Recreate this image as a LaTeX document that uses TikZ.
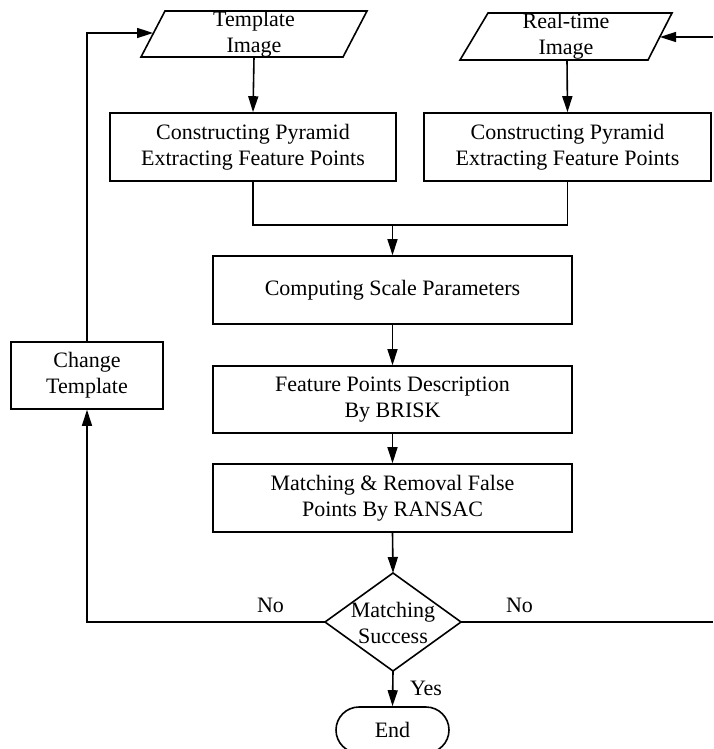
\documentclass[tikz,border=0pt]{standalone}
\usepackage{fontspec}
\setmainfont{Liberation Serif}
\usetikzlibrary{arrows.meta,calc}

\tikzset{
  base/.style={font=\fontsize{11pt}{13pt}\selectfont, align=center, inner sep=0pt},
  procbox/.style={base, draw, line width=0.8pt, minimum height=34pt},
  txt/.style={base},
  termbox/.style={base, draw, line width=0.8pt, rounded corners=11.5pt,
    minimum width=56.5pt, minimum height=23pt},
  conn/.style={line width=0.8pt},
  arr/.style={conn, -{Triangle[length=8pt,width=5pt]}},
  lbl/.style={font=\fontsize{11pt}{13pt}\selectfont, inner sep=0pt}
}

\begin{document}
\begin{tikzpicture}[x=0.5pt,y=-0.5pt]
  \useasboundingbox (0,0) rectangle (713,749);

  % input images (parallelograms drawn around the text nodes)
  \node[txt] (tmpl) at (254,34) {Template\\Image};
  \draw[conn] ($(tmpl)+(-113,23)$) -- ($(tmpl)+(-89,-23)$) -- ($(tmpl)+(113,-23)$)
    -- ($(tmpl)+(89,23)$) -- cycle;
  \coordinate (tmplS) at ($(tmpl)+(0,23)$);
  \coordinate (tmplW) at ($(tmpl)+(-101,-1)$);

  \node[txt] (rt) at (566,36.5) {Real-time\\Image};
  \draw[conn] ($(rt)+(-106,23.5)$) -- ($(rt)+(-78,-23.5)$) -- ($(rt)+(106,-23.5)$)
    -- ($(rt)+(82,23.5)$) -- cycle;
  \coordinate (rtS) at ($(rt)+(1,23.5)$);
  \coordinate (rtE) at ($(rt)+(94,0.5)$);

  % processing steps
  \node[procbox, minimum width=143pt] (cpL) at (253,147)
    {Constructing Pyramid\\Extracting Feature Points};
  \node[procbox, minimum width=143.5pt] (cpR) at (567.5,147)
    {Constructing Pyramid\\Extracting Feature Points};
  \node[procbox, minimum width=179.5pt] (csp) at (392.5,290)
    {Computing Scale Parameters};
  \node[procbox, minimum width=179.5pt, minimum height=33.5pt] (fpd) at (392.5,399.5)
    {Feature Points Description\\By BRISK};
  \node[procbox, minimum width=179.5pt] (mr) at (392.5,498)
    {Matching \& Removal False\\Points By RANSAC};
  \node[procbox, minimum width=76pt, minimum height=33.5pt] (ct) at (87,375.5)
    {Change\\Template};

  % decision
  \node[txt] (ms) at (393,623) {Matching\\Success};
  \coordinate (msN) at (393,573);
  \coordinate (msS) at (393,671);
  \coordinate (msW) at (325,622);
  \coordinate (msE) at (461,622);
  \draw[conn] (msN) -- (msE) -- (msS) -- (msW) -- cycle;

  % terminal
  \node[termbox] (end) at (392.5,730) {End};

  % connectors
  \draw[arr] (tmplS) -- (cpL.north);
  \draw[arr] (rtS) -- (cpR.north);
  \coordinate (join) at (392.5,225);
  \draw[conn] (cpL.south) |- (join) -| (cpR.south);
  \draw[arr] (join) -- (csp.north);
  \draw[arr] (csp.south) -- (fpd.north);
  \draw[arr] (fpd.south) -- (mr.north);
  \draw[arr] (mr.south) -- (msN);
  \draw[arr] (msS) -- (end.north);
  \draw[arr] (msW) -| (ct.south);
  \draw[arr] (ct.north) |- (tmplW);
  \coordinate (rOut) at (713,622);
  \draw[conn] (msE) -- (rOut);
  \coordinate (rIn) at (713,37);
  \draw[arr] (rIn) -- (rtE);

  % labels
  \node[lbl] (noL) at (270.5,605) {No};
  \node[lbl] (noR) at (519.5,605) {No};
  \node[lbl] (yes) at (426,688) {Yes};
\end{tikzpicture}
\end{document}
